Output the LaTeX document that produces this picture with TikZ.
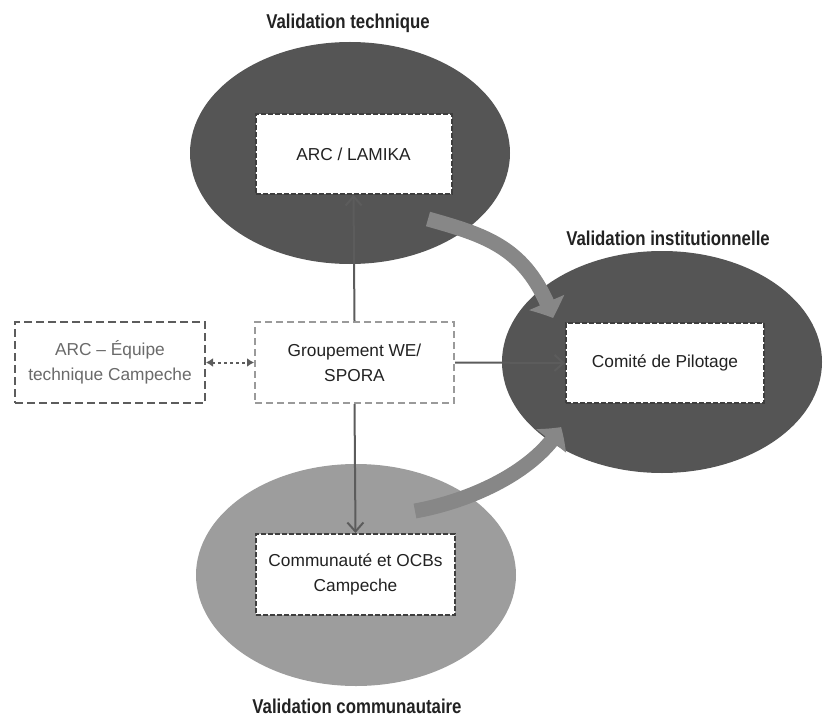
\documentclass[tikz,border=0pt]{standalone}
\usepackage{fontspec}
\setmainfont{Liberation Sans}
\newfontfamily\titlefont{Liberation Sans}[FakeStretch=0.84]
\usetikzlibrary{shapes.geometric,arrows.meta,bending}

\definecolor{darkell}{HTML}{555555}
\definecolor{lightell}{HTML}{9D9D9D}
\definecolor{curvegray}{HTML}{878787}
\definecolor{linkgray}{HTML}{5C5C5C}
\definecolor{boxline}{HTML}{3E3E3E}
\definecolor{paleline}{HTML}{9A9A9A}
\definecolor{txt}{HTML}{222222}
\definecolor{softtxt}{HTML}{6A6A6A}

\tikzset{
  zone/.style={ellipse, inner sep=0pt, minimum width=320pt, minimum height=222pt},
  innerbox/.style={rectangle, fill=white, draw=boxline, line width=2pt,
    dash pattern=on 5pt off 2pt, align=center, text=txt, inner sep=2pt,
    font=\fontsize{17.3}{25}\selectfont},
  title/.style={text=txt, inner sep=1pt, font=\titlefont\bfseries\fontsize{20}{24}\selectfont},
  link/.style={draw=linkgray, line width=2pt},
  linkarrow/.style={link, -{Straight Barb[length=9pt,width=16pt,line width=2pt]}},
  bigarrow/.style={draw=curvegray, line width=15pt,
    -{Triangle[width=37pt,length=17pt,bend]}},
}

\begin{document}
\begin{tikzpicture}[x=1pt,y=1pt]
\useasboundingbox (0,0) rectangle (829,-719);

% the three validation zones
\node[zone, fill=darkell]  (tech) at (350,-153) {};
\node[zone, fill=darkell]  (inst) at (662,-362) {};
\node[zone, fill=lightell] (comm) at (356,-575) {};

% zone titles
\node[title] (ttech) at (348,-23)  {Validation technique};
\node[title] (tinst) at (668,-238) {Validation institutionnelle};
\node[title] (tcomm) at (357,-706) {Validation communautaire};

% actors
\node[innerbox, minimum width=196pt, minimum height=80pt] (arc) at (353.5,-154) {ARC / LAMIKA};
\node[innerbox, minimum width=198pt, minimum height=80pt] (copil) at (665,-363) {Comité de Pilotage};
\node[innerbox, minimum width=199pt, minimum height=81pt] (ocb) at (355.5,-574.5) {Communauté et OCBs\\Campeche};
\node[innerbox, draw=paleline, dash pattern=on 7pt off 4pt,
      minimum width=199pt, minimum height=81pt] (group) at (354.5,-362.5) {Groupement WE/\\SPORA};
\node[innerbox, draw=linkgray, dash pattern=on 8pt off 4pt, text=softtxt,
      minimum width=190pt, minimum height=81pt] (equipe) at (110,-362.5) {ARC -- Équipe\\technique Campeche};

% links from the consultancy group
\draw[linkarrow] (group.north) -- (arc.south);
\draw[linkarrow] (group.east) -- (copil.west);
\draw[linkarrow] (group.south) -- (ocb.north);
\draw[draw=linkgray, line width=2pt, dash pattern=on 3pt off 3pt,
      {Latex[length=7pt,width=9pt]}-{Latex[length=7pt,width=9pt]}]
  (equipe.east) -- (group.west);

% validation flows towards the steering committee
\coordinate (f1s) at (428,-219);
\coordinate (f1e) at (553,-318);
\coordinate (f2s) at (415,-511);
\coordinate (f2e) at (561,-427);
\draw[bigarrow] (f1s) .. controls (488,-236) and (528,-248) .. (f1e);
\draw[bigarrow] (f2s) .. controls (470,-501) and (535,-472) .. (f2e);
\end{tikzpicture}
\end{document}
